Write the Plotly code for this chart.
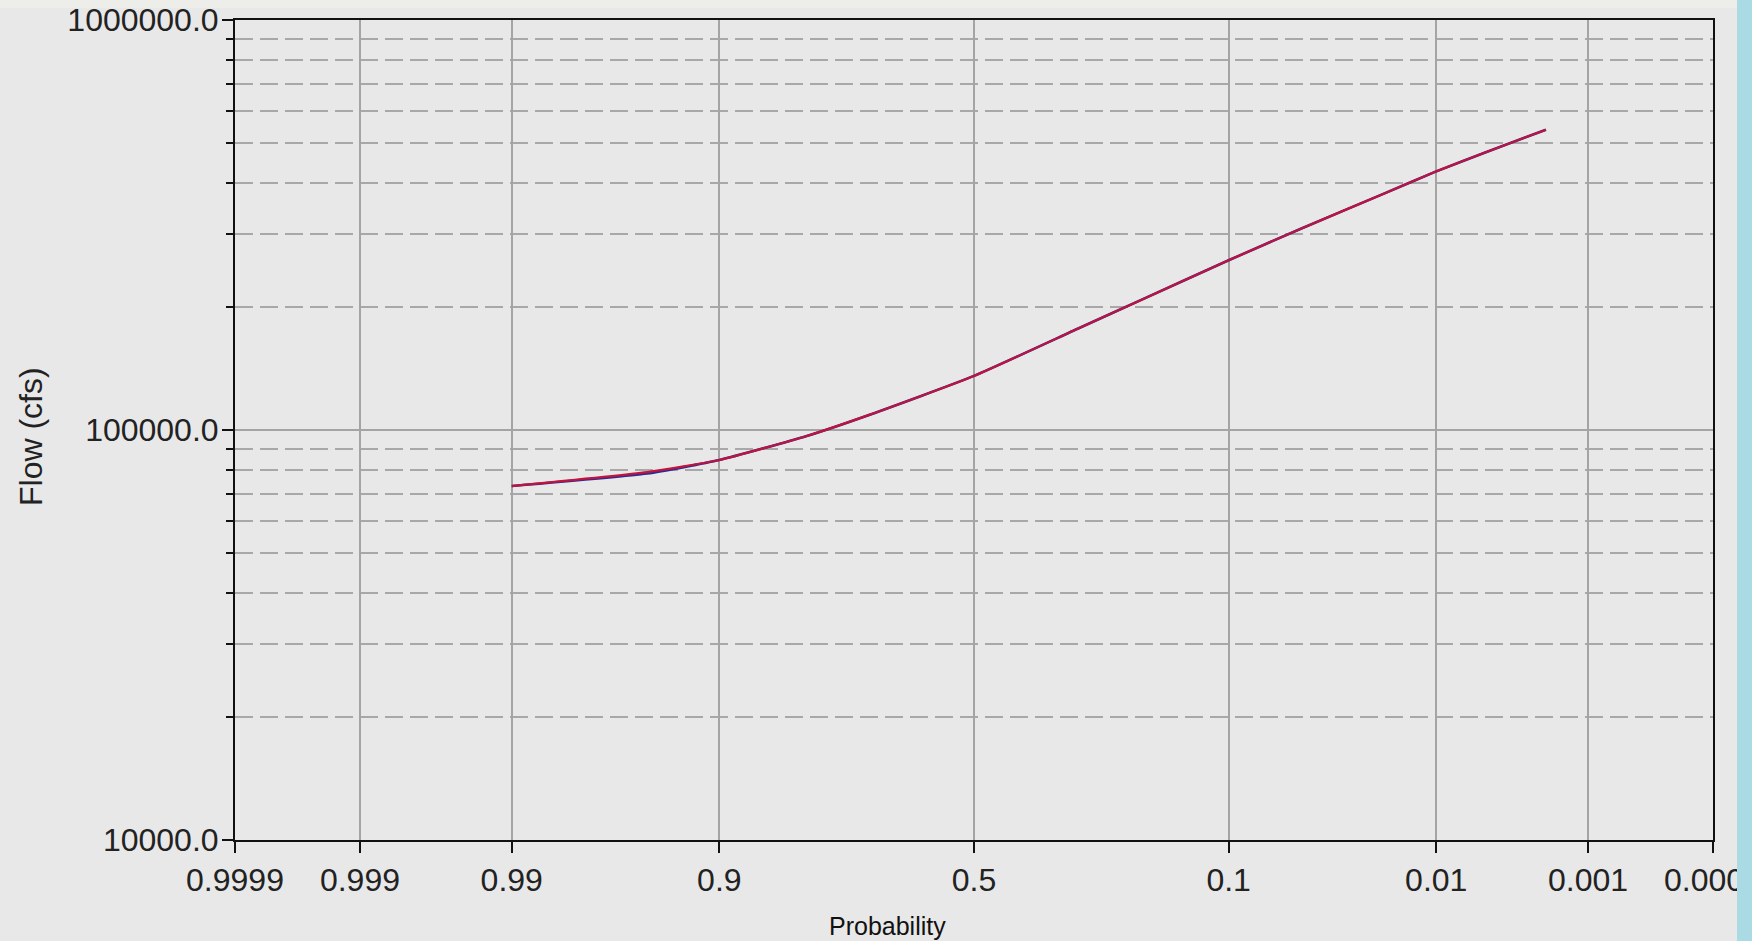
from statistics import NormalDist
import plotly.graph_objects as go

# Exceedance probabilities and flows (cfs)
prob = [0.99, 0.95, 0.9, 0.8, 0.7, 0.5, 0.3, 0.2, 0.1, 0.05, 0.02, 0.01, 0.005, 0.002]
flow_computed = [73000, 78900, 84500, 96700, 109000, 135500, 176800, 207600,
                 259400, 309700, 375500, 427400, 475900, 540000]
flow_expected = [73000, 78300, 84500, 96700, 109000, 135500, 176800, 207600,
                 259400, 309700, 375500, 427400, 475900, 540000]

x_tick_probs = [0.9999, 0.999, 0.99, 0.9, 0.5, 0.1, 0.01, 0.001, 0.0001]
x_tick_text = ["0.9999", "0.999", "0.99", "0.9", "0.5", "0.1", "0.01", "0.001", "0.0001"]
y_tick_vals = [10000, 100000, 1000000]
y_tick_text = ["10000.0", "100000.0", "1000000.0"]
y_minor_vals = [m * d for d in (10000, 100000) for m in range(2, 10)]

nd = NormalDist()


def zpos(p):
    # normal-probability scale, decreasing exceedance to the right
    return nd.inv_cdf(1 - p)


W, H = 1752, 941
L, R, T, B = 235, 39, 20, 101

fig = go.Figure()
fig.add_trace(go.Scatter(x=[zpos(p) for p in prob], y=flow_expected, mode="lines",
                         line=dict(color="#2a2a9a", width=2.6, shape="spline", smoothing=0.5),
                         showlegend=False))
fig.add_trace(go.Scatter(x=[zpos(p) for p in prob], y=flow_computed, mode="lines",
                         line=dict(color="#c0143c", width=2.2, shape="spline", smoothing=0.5),
                         showlegend=False))

font_family = "Liberation Sans, Arial, sans-serif"

fig.update_xaxes(
    range=[zpos(0.9999), zpos(0.0001)],
    tickvals=[zpos(p) for p in x_tick_probs], ticktext=x_tick_text,
    showline=True, linecolor="#111111", linewidth=2, mirror=True,
    ticks="outside", ticklen=11, tickwidth=2, tickcolor="#111111",
    showgrid=True, gridcolor="#a4a4a4", gridwidth=1.5,
    zeroline=False, automargin=False, ticklabeloverflow="allow",
    tickfont=dict(family=font_family, size=32, color="#222222"),
)
fig.update_yaxes(
    type="log", range=[4, 6],
    tickvals=y_tick_vals, ticktext=y_tick_text,
    showline=True, linecolor="#111111", linewidth=2, mirror=True,
    ticks="outside", ticklen=11, tickwidth=2, tickcolor="#111111",
    showgrid=True, gridcolor="#a4a4a4", gridwidth=1.5,
    minor=dict(tickvals=y_minor_vals, ticks="outside", ticklen=7, tickwidth=2,
               tickcolor="#111111", showgrid=True, gridcolor="#a8a8a8",
               gridwidth=1.5, griddash="18px,7px"),
    zeroline=False, automargin=False, ticklabeloverflow="allow",
    ticklabelstandoff=-3,
    tickfont=dict(family=font_family, size=32, color="#222222"),
)

pw = W - L - R
ph = H - T - B


def px_x(v):
    return (v - L) / pw


def px_y(v):
    return (H - B - v) / ph


fig.update_layout(
    width=W, height=H,
    margin=dict(l=L, r=R, t=T, b=B),
    paper_bgcolor="#e8e8e8", plot_bgcolor="#e8e8e8",
    shapes=[
        dict(type="rect", xref="paper", yref="paper", layer="above",
             x0=px_x(1737), x1=px_x(W + 5), y0=px_y(H + 5), y1=px_y(-5),
             fillcolor="#aadbe5", line=dict(width=0)),
        dict(type="rect", xref="paper", yref="paper", layer="below",
             x0=px_x(-5), x1=px_x(1737), y0=px_y(8), y1=px_y(-5),
             fillcolor="#ededea", line=dict(width=0)),
    ],
    annotations=[
        dict(text="Flow (cfs)", xref="paper", yref="paper",
             x=px_x(31), y=px_y(436), textangle=-90, showarrow=False,
             xanchor="center", yanchor="middle",
             font=dict(family=font_family, size=32, color="#222222")),
        dict(text="Probability", xref="paper", yref="paper",
             x=px_x(887), y=px_y(926), showarrow=False,
             xanchor="center", yanchor="middle",
             font=dict(family=font_family, size=25, color="#111111")),
    ],
)

fig.write_html("out.html")
